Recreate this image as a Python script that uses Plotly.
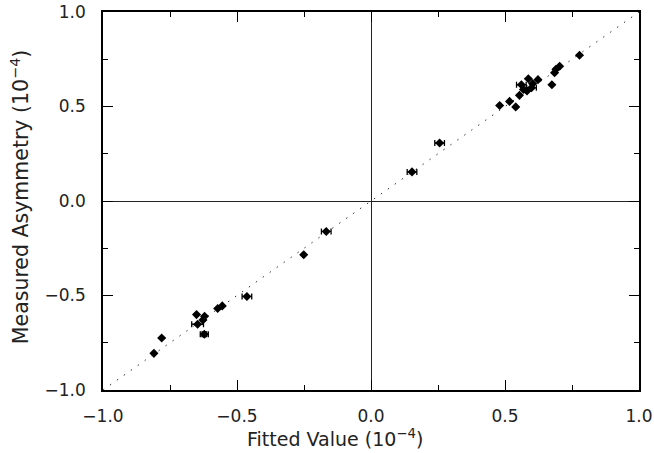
import plotly.graph_objects as go

fitted = [0.778, 0.704, 0.690, 0.685, 0.675, 0.623, 0.587, 0.603, 0.599, 0.561,
          0.569, 0.582, 0.554, 0.517, 0.540, 0.480,
          0.256, 0.153, -0.167, -0.251,
          -0.463, -0.555, -0.572, -0.621, -0.627, -0.651, -0.647, -0.622, -0.781, -0.810]
measured = [0.771, 0.713, 0.697, 0.679, 0.615, 0.642, 0.647, 0.621, 0.599, 0.615,
            0.590, 0.582, 0.559, 0.527, 0.498, 0.505,
            0.307, 0.154, -0.161, -0.284,
            -0.505, -0.555, -0.569, -0.610, -0.629, -0.601, -0.652, -0.705, -0.725, -0.806]
fit_err = [0, 0, 0, 0, 0, 0, 0, 0, 0.018, 0.018,
           0, 0, 0, 0, 0, 0,
           0.018, 0.018, 0.018, 0,
           0.018, 0, 0, 0, 0, 0, 0.022, 0.015, 0, 0]
meas_err = [0]*27 + [0.012, 0, 0]

diag = [-1.0, 1.0]
x_ticks = [-1.0, -0.5, 0.0, 0.5, 1.0]

fig = go.Figure()
fig.add_trace(go.Scatter(x=diag, y=diag, mode="lines",
                         line=dict(color="#333", width=1, dash="1.5px,7px"),
                         hoverinfo="skip", showlegend=False))
fig.add_trace(go.Scatter(
    x=fitted, y=measured, mode="markers",
    marker=dict(symbol="diamond", size=7, color="black"),
    error_x=dict(type="data", array=fit_err, color="black", thickness=1.3, width=3),
    error_y=dict(type="data", array=meas_err, color="black", thickness=1.3, width=3),
    showlegend=False))

axis_common = dict(range=[-1, 1], tickvals=x_ticks, tickformat=".1f", automargin=False,
                   showgrid=False, zeroline=True, zerolinecolor="#222", zerolinewidth=1.3,
                   showline=True, linecolor="black", linewidth=1.5, mirror="ticks",
                   ticks="inside", ticklen=10, tickwidth=1.3, tickcolor="black",
                   minor=dict(dtick=0.25, ticks="inside", ticklen=5, tickwidth=1.3, tickcolor="black"),
                   tickfont=dict(family="DejaVu Sans", size=17, color="#222"))

fig.update_layout(
    template="none",
    width=654, height=453,
    margin=dict(l=103, r=15, t=12, b=63),
    paper_bgcolor="white", plot_bgcolor="white",
    xaxis=dict(**axis_common, ticklabelstandoff=10),
    yaxis=dict(**axis_common, ticklabelstandoff=12),
    annotations=[
        dict(text="Fitted Value (10<sup>−4</sup>)", xref="paper", yref="paper",
             x=0.433, y=-0.127, xanchor="center", yanchor="middle", showarrow=False,
             font=dict(family="DejaVu Sans", size=19, color="#222")),
        dict(text="Measured Asymmetry (10<sup>−4</sup>)", xref="paper", yref="paper",
             x=-0.155, y=0.51, xanchor="center", yanchor="middle", showarrow=False,
             textangle=-90, font=dict(family="DejaVu Sans", size=20.5, color="#222")),
    ],
)

fig.write_html("out.html", config={"displayModeBar": False},
               post_script="document.body.style.margin='0';document.body.style.overflow='hidden';")
